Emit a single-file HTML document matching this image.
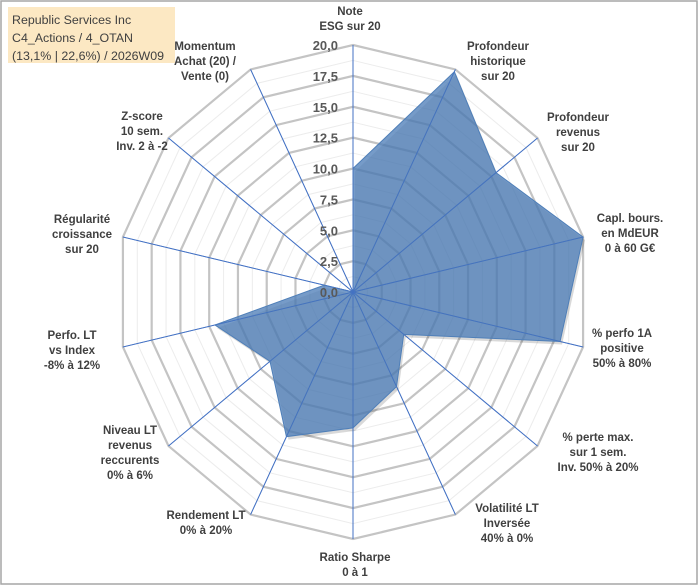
<!DOCTYPE html>
<html><head><meta charset="utf-8"><style>
body{margin:0;background:#fff;}
svg{display:block;font-family:"Liberation Sans",Arial,sans-serif;}
</style></head><body>
<svg id="chart" width="700" height="587">
<rect x="1" y="1" width="696" height="583" fill="#fff" stroke="#a6a6a6" stroke-width="1.5"/>
<rect x="8" y="7" width="167" height="56" fill="#fce8c3"/>
<text x="12" y="24" font-size="12.4" fill="#404040">Republic Services Inc</text>
<text x="12" y="42" font-size="12.4" fill="#404040">C4_Actions / 4_OTAN</text>
<text x="12" y="60" font-size="12.4" fill="#404040">(13,1% | 22,6%) / 2026W09</text>
<g id="grid"></g><g id="series"></g><g id="labels"></g>
</svg>
<script>
const categories=[
["Note","ESG sur 20"],["Profondeur","historique","sur 20"],["Profondeur","revenus","sur 20"],
["Capl. bours.","en MdEUR","0 à 60 G€"],["% perfo 1A","positive","50% à 80%"],
["% perte max.","sur 1 sem.","Inv. 50% à 20%"],["Volatilité LT","Inversée","40% à 0%"],
["Ratio Sharpe","0 à 1"],["Rendement LT","0% à 20%"],["Niveau LT","revenus","reccurents","0% à 6%"],
["Perfo. LT","vs Index","-8% à 12%"],["Régularité","croissance","sur 20"],
["Z-score","10 sem.","Inv. 2 à -2"],["Momentum","Achat (20) /","Vente (0)"]];
const values=[10,19.8,15.5,20,18,5.5,8.5,11,13,9,12,2.5,0,0];
const tickLabels=["0,0","2,5","5,0","7,5","10,0","12,5","15,0","17,5","20,0"];
const tickValues=[0,2.5,5,7.5,10,12.5,15,17.5,20];
const labelPos=[[350,11],[498,46],[578,117],[630,218],[622,333],[598,437],[507,508],[355,557],[206,515],[130,430],[72,335],[82,219],[142,116],[205,46]];
const NS="http://www.w3.org/2000/svg";
const cx=353,cy=292,rx=236,ry=247,max=20,n=categories.length;
function pt(i,v){const a=2*Math.PI*i/n;return [cx+rx*v/max*Math.sin(a),cy-ry*v/max*Math.cos(a)];}
function mk(t,attrs,parent){const e=document.createElementNS(NS,t);for(const k in attrs)e.setAttribute(k,attrs[k]);parent.appendChild(e);return e;}
const grid=document.getElementById('grid'),ser=document.getElementById('series'),lab=document.getElementById('labels');
for(let v=1.25;v<=20.01;v+=1.25){
  const major=Math.abs(v/2.5-Math.round(v/2.5))<1e-6;
  const p=[];for(let i=0;i<n;i++)p.push(pt(i,v).join(','));
  const e=mk('polygon',{points:p.join(' '),fill:'none',stroke:major?'#c4c4c4':'#ececec','stroke-width':major?2.2:1},grid);
  
  
}
for(let i=0;i<n;i++){const q=pt(i,max);
  const e=mk('line',{x1:cx,y1:cy,x2:q[0],y2:q[1],stroke:'#4472c4','stroke-width':1},grid);
  
  
}
const pts=values.map((v,i)=>pt(i,v).join(',')).join(' ');
const sh=mk('polygon',{points:pts,fill:'#000',opacity:0.15,transform:'translate(2,3)'},ser);


const poly=mk('polygon',{points:pts,fill:'#4f7fb8','fill-opacity':0.78,stroke:'#4f7fb8','stroke-width':1},ser);


for(let i=0;i<n;i++){const q=pt(i,max);
  const e=mk('line',{x1:cx,y1:cy,x2:q[0],y2:q[1],stroke:'#4472c4','stroke-width':0.8,opacity:0.8},ser);
  
  
}
tickValues.forEach((v,k)=>{
  const t=mk('text',{x:cx-15,y:cy-ry*v/max+5,'text-anchor':'end','font-size':13,'font-weight':'bold',fill:'#595959'},lab);
  t.textContent=tickLabels[k];
  
  
});
categories.forEach((lines,i)=>{
  const [x,y]=labelPos[i];
  lines.forEach((s,j)=>{
    const t=mk('text',{x:x,y:y+j*15+4,'text-anchor':'middle','font-size':11.5,'font-weight':'bold',fill:'#404040'},lab);
    t.textContent=s;
    
    
  });
});
</script>
</body></html>
